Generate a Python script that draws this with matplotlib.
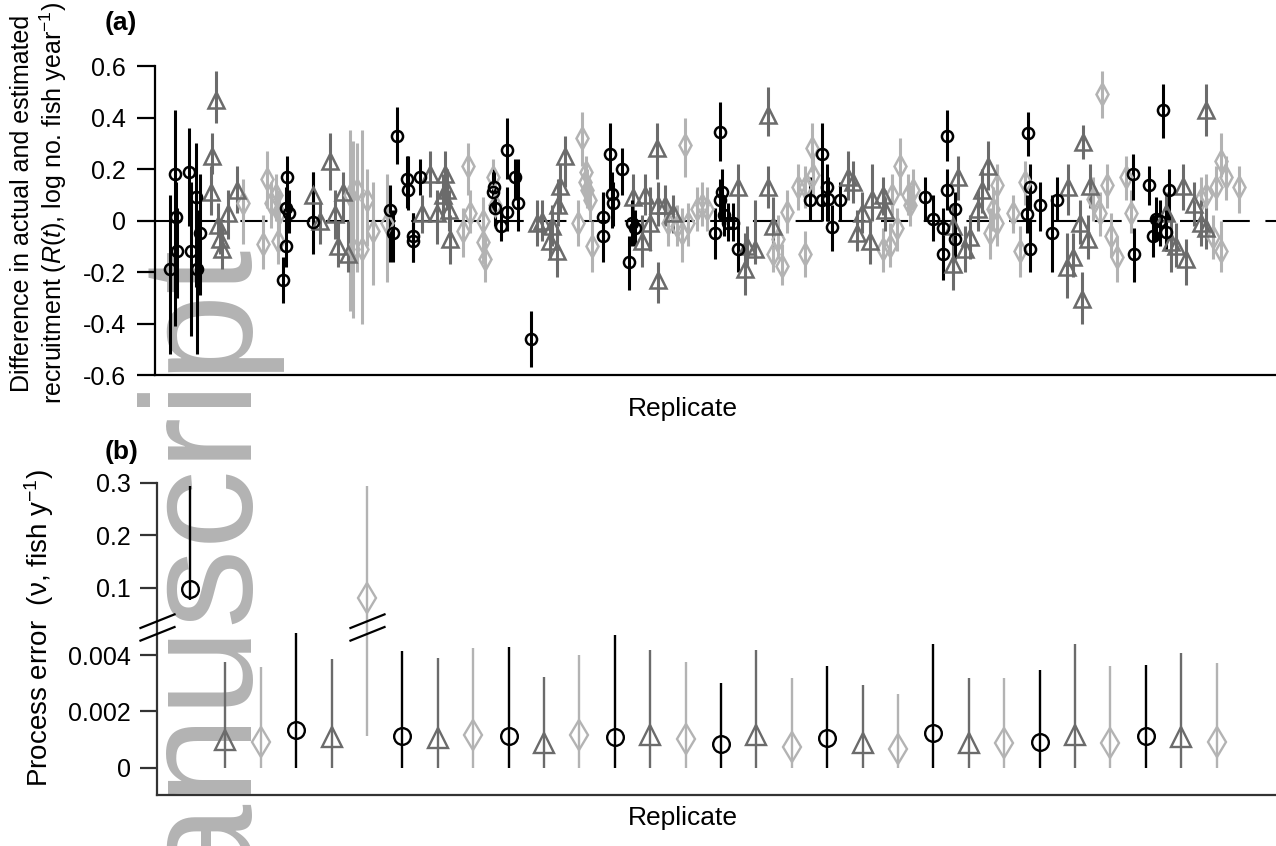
"""Two-panel replicate plot: (a) recruitment deviations, (b) process error."""
import numpy as np
import matplotlib

matplotlib.use("Agg")
import matplotlib.pyplot as plt  # noqa: E402
from matplotlib.path import Path  # noqa: E402

plt.rcParams["font.family"] = ["Liberation Sans", "DejaVu Sans"]
plt.rcParams["mathtext.fontset"] = "custom"
plt.rcParams["mathtext.rm"] = "Liberation Sans"
plt.rcParams["mathtext.it"] = "Liberation Sans:italic"
plt.rcParams["mathtext.bf"] = "Liberation Sans:bold"

# ---------------------------------------------------------------- data (a)
# x = replicate position (year points are spread around each replicate)
circ_x = [0.44, 0.58, 0.60, 0.63, 0.97, 1.03, 1.17, 1.20, 1.28,
          3.63, 3.71, 3.71, 3.74, 3.80, 4.47,
          6.65, 6.73, 6.85, 7.13, 7.16, 7.30, 7.30, 7.50,
          9.56, 9.59, 9.62, 9.79, 9.95, 9.95, 10.18, 10.27, 10.63,
          12.67, 12.67, 12.86, 12.92, 12.95, 13.20, 13.40, 13.49, 13.57,
          15.83, 15.97, 15.97, 16.03, 16.08, 16.20, 16.34, 16.48,
          18.51, 18.85, 18.85, 18.99, 19.02, 19.14, 19.36,
          21.76, 21.99, 22.27, 22.27, 22.38, 22.38, 22.61, 22.61,
          24.64, 24.67, 24.73, 24.73, 25.01, 25.35, 25.49,
          27.64, 27.67, 28.09, 28.20, 28.29, 28.40, 28.49, 28.57, 28.66]
circ_est = [-0.19, 0.18, 0.013, -0.12, 0.19, -0.12, 0.09, -0.19, -0.05,
            -0.23, -0.10, 0.05, 0.17, 0.03, -0.006,
            0.04, -0.05, 0.33, 0.16, 0.12, -0.06, -0.08, 0.17,
            0.11, 0.13, 0.05, -0.02, 0.275, 0.035, 0.17, 0.07, -0.46,
            0.013, -0.06, 0.26, 0.105, 0.07, 0.20, -0.16, -0.01, -0.03,
            -0.05, 0.345, 0.08, 0.11, 0.02, -0.01, -0.01, -0.11,
            0.08, 0.26, 0.08, 0.13, 0.085, -0.025, 0.08,
            0.09, 0.005, -0.03, -0.13, 0.33, 0.12, 0.045, -0.07,
            0.025, 0.34, 0.13, -0.11, 0.06, -0.05, 0.08,
            0.18, -0.13, 0.14, -0.06, 0.006, 0.0, 0.43, -0.045, 0.12]
circ_lo = [-0.52, -0.41, -0.15, -0.30, -0.02, -0.45, -0.26, -0.52, -0.29,
           -0.32, -0.18, -0.05, 0.05, -0.05, -0.13,
           -0.16, -0.16, 0.22, 0.05, 0.04, -0.16, -0.16, 0.10,
           0.03, 0.06, -0.02, -0.08, 0.16, -0.04, 0.08, -0.04, -0.57,
           -0.08, -0.16, 0.12, -0.03, -0.02, 0.10, -0.27, -0.10, -0.10,
           -0.15, 0.23, 0.0, 0.0, -0.06, -0.08, -0.08, -0.20,
           0.0, 0.12, 0.0, 0.0, 0.0, -0.12, 0.0,
           0.0, -0.08, -0.12, -0.23, 0.23, 0.04, -0.05, -0.15,
           -0.05, 0.25, 0.04, -0.20, -0.04, -0.20, 0.0,
           0.08, -0.24, 0.06, -0.14, -0.08, -0.10, 0.32, -0.12, 0.0]
circ_hi = [0.10, 0.43, 0.15, 0.05, 0.36, 0.15, 0.30, 0.04, 0.18,
           -0.14, 0.0, 0.13, 0.25, 0.12, 0.19,
           0.14, 0.04, 0.44, 0.25, 0.25, 0.03, 0.03, 0.24,
           0.19, 0.20, 0.12, 0.05, 0.40, 0.13, 0.24, 0.24, -0.35,
           0.10, 0.11, 0.38, 0.19, 0.15, 0.28, -0.06, 0.08, 0.04,
           0.05, 0.46, 0.16, 0.20, 0.10, 0.07, 0.07, 0.0,
           0.17, 0.38, 0.16, 0.22, 0.17, 0.06, 0.15,
           0.17, 0.10, 0.05, -0.04, 0.43, 0.20, 0.11, 0.0,
           0.10, 0.42, 0.22, 0.0, 0.15, 0.10, 0.17,
           0.26, -0.03, 0.21, 0.02, 0.09, 0.08, 0.53, 0.04, 0.20]

tri_x = [1.59, 1.62, 1.73, 1.79, 1.85, 1.90, 2.07, 2.33,
         4.47, 4.67, 4.95, 5.10, 5.18, 5.32, 5.46,
         7.55, 7.78, 7.98, 8.15, 8.20, 8.26, 8.32, 8.34,
         10.80, 10.94, 11.17, 11.23, 11.37, 11.40, 11.45, 11.59,
         13.51, 13.77, 13.85, 13.99, 14.19, 14.22, 14.22, 14.42, 14.64,
         16.48, 16.68, 16.73, 16.96, 17.33, 17.33, 17.47,
         19.59, 19.73, 19.84, 19.98, 20.21, 20.27, 20.58, 20.63,
         22.55, 22.55, 22.69, 22.89, 23.03, 23.26, 23.37, 23.54,
         25.77, 25.80, 25.94, 26.14, 26.20, 26.23, 26.37, 26.42,
         28.57, 28.71, 28.85, 29.05, 29.14, 29.36, 29.56, 29.70, 29.70]
tri_est = [0.11, 0.25, 0.47, -0.016, -0.07, -0.11, 0.03, 0.12,
           0.10, 0.0, 0.23, 0.025, -0.10, 0.11, -0.13,
           0.03, 0.18, 0.03, 0.10, 0.18, 0.12, 0.04, -0.07,
           -0.01, 0.0, -0.08, -0.02, -0.12, 0.06, 0.135, 0.25,
           0.09, -0.08, 0.10, -0.01, 0.28, 0.06, -0.23, 0.06, 0.03,
           0.13, -0.19, -0.10, -0.11, 0.41, 0.13, -0.02,
           0.17, 0.15, -0.05, 0.03, -0.08, 0.085, 0.10, 0.04,
           -0.02, -0.17, 0.17, -0.11, -0.065, 0.045, 0.12, 0.21,
           -0.18, 0.13, -0.14, -0.01, -0.305, 0.305, -0.07, 0.135,
           0.03, -0.085, -0.10, 0.135, -0.15, 0.065, -0.01, 0.43, -0.03]
tri_lo = [0.02, 0.18, 0.38, -0.06, -0.13, -0.19, -0.07, 0.03,
          0.0, -0.09, 0.12, -0.07, -0.18, 0.0, -0.20,
          -0.05, 0.09, -0.09, 0.0, 0.06, 0.04, -0.04, -0.17,
          -0.10, -0.08, -0.15, -0.10, -0.22, -0.02, 0.03, 0.13,
          0.0, -0.18, 0.02, -0.12, 0.16, -0.02, -0.32, -0.02, -0.05,
          0.0, -0.29, -0.18, -0.17, 0.33, 0.05, -0.10,
          0.08, 0.07, -0.12, -0.05, -0.17, 0.0, 0.02, -0.04,
          -0.10, -0.27, 0.08, -0.20, -0.15, -0.04, 0.03, 0.12,
          -0.30, 0.02, -0.22, -0.09, -0.40, 0.24, -0.15, 0.05,
          -0.05, -0.20, -0.18, 0.04, -0.25, -0.02, -0.10, 0.33, -0.11]
tri_hi = [0.21, 0.34, 0.58, 0.07, 0.0, -0.02, 0.12, 0.21,
          0.19, 0.07, 0.34, 0.12, 0.0, 0.19, 0.0,
          0.10, 0.27, 0.12, 0.18, 0.27, 0.20, 0.12, 0.02,
          0.08, 0.08, 0.0, 0.06, -0.02, 0.16, 0.22, 0.33,
          0.18, 0.02, 0.18, 0.13, 0.38, 0.15, -0.16, 0.14, 0.10,
          0.22, -0.05, -0.02, 0.08, 0.52, 0.21, 0.09,
          0.27, 0.23, 0.04, 0.11, 0.0, 0.22, 0.17, 0.12,
          0.06, -0.06, 0.25, -0.02, 0.02, 0.12, 0.20, 0.31,
          -0.05, 0.22, -0.05, 0.08, -0.20, 0.37, 0.02, 0.22,
          0.11, 0.02, -0.01, 0.22, -0.07, 0.15, 0.08, 0.53, 0.05]

dia_x = [2.50, 3.06, 3.18, 3.29, 3.44, 3.49, 3.52,
         5.52, 5.60, 5.72, 5.86, 6.00, 6.17, 6.56,
         8.71, 8.85, 8.91, 9.28, 9.28, 9.33, 9.56, 9.62,
         11.96, 12.07, 12.16, 12.19, 12.21, 12.30, 12.36,
         14.50, 14.76, 14.90, 14.98, 15.07, 15.32, 15.46, 15.60,
         17.47, 17.61, 17.72, 17.86, 18.18, 18.37, 18.37, 18.57, 18.60,
         20.58, 20.77, 20.83, 20.97, 21.06, 21.28, 21.34, 21.43,
         23.60, 23.68, 23.80, 23.80, 24.25, 24.45, 24.59,
         26.51, 26.71, 26.76, 26.90, 27.02, 27.19, 27.44, 27.58,
         29.56, 29.70, 29.90, 29.98, 30.12, 30.12, 30.27, 30.63]
dia_est = [0.07, -0.09, 0.16, 0.07, 0.10, -0.08, 0.03,
           0.10, -0.11, 0.12, -0.11, 0.08, -0.04, -0.01,
           -0.04, 0.21, 0.03, 0.0, -0.085, -0.15, 0.17, 0.06,
           -0.01, 0.32, 0.15, 0.19, 0.12, 0.08, -0.10,
           -0.01, -0.02, -0.05, 0.295, -0.01, 0.045, 0.06, 0.045,
           -0.13, -0.07, -0.175, 0.035, 0.13, -0.13, 0.13, 0.28, 0.175,
           -0.11, -0.10, 0.10, -0.03, 0.21, 0.10, 0.06, 0.12,
           -0.05, 0.045, 0.14, -0.01, 0.03, -0.12, 0.15,
           0.085, 0.03, 0.49, 0.14, -0.06, -0.14, 0.17, 0.03,
           0.085, 0.10, -0.065, 0.13, 0.23, -0.12, 0.17, 0.13]
dia_lo = [-0.09, -0.19, 0.05, -0.03, 0.0, -0.17, -0.06,
          -0.35, -0.38, -0.20, -0.40, -0.10, -0.25, -0.24,
          -0.14, 0.10, -0.05, -0.09, -0.17, -0.24, 0.05, -0.03,
          -0.10, 0.21, 0.08, 0.10, 0.05, 0.0, -0.20,
          -0.10, -0.10, -0.16, 0.17, -0.10, -0.04, -0.02, -0.04,
          -0.20, -0.15, -0.25, -0.05, 0.04, -0.22, 0.05, 0.19, 0.09,
          -0.20, -0.18, 0.02, -0.12, 0.10, 0.02, -0.02, 0.04,
          -0.15, -0.04, 0.05, -0.10, -0.05, -0.22, 0.06,
          0.0, -0.06, 0.40, 0.05, -0.14, -0.24, 0.08, -0.05,
          0.0, 0.02, -0.15, 0.04, 0.17, -0.20, 0.08, 0.03]
dia_hi = [0.16, 0.02, 0.27, 0.15, 0.18, 0.0, 0.12,
          0.35, 0.31, 0.30, 0.35, 0.20, 0.15, 0.18,
          0.05, 0.30, 0.12, 0.09, 0.0, -0.06, 0.24, 0.14,
          0.08, 0.42, 0.22, 0.25, 0.20, 0.15, 0.0,
          0.07, 0.06, 0.05, 0.40, 0.07, 0.13, 0.15, 0.13,
          -0.02, 0.02, -0.09, 0.12, 0.22, -0.04, 0.21, 0.38, 0.26,
          -0.03, -0.01, 0.18, 0.05, 0.32, 0.18, 0.14, 0.20,
          0.05, 0.13, 0.22, 0.07, 0.10, -0.02, 0.23,
          0.17, 0.11, 0.58, 0.22, 0.03, -0.06, 0.25, 0.12,
          0.17, 0.18, 0.02, 0.21, 0.34, 0.0, 0.25, 0.21]

a_ticks = [-0.6, -0.4, -0.2, 0.0, 0.2, 0.4, 0.6]
a_ticklabels = ["-0.6", "-0.4", "-0.2", "0", "0.2", "0.4", "0.6"]

# ---------------------------------------------------------------- data (b)
replicate = list(range(1, 31))
b_est = [0.098, 0.00099, 0.00093, 0.00134, 0.0011, 0.080, 0.00113, 0.00106,
         0.00117, 0.00113, 0.00088, 0.00117, 0.0011, 0.00117, 0.00103,
         0.00085, 0.00117, 0.00075, 0.00106, 0.0009, 0.00067, 0.00123,
         0.0009, 0.00088, 0.00093, 0.00117, 0.00088, 0.00113, 0.0011, 0.00093]
b_lo = [0.077, 0, 0, 0, 0, 0.00113, 0, 0, 0, 0, 0, 0, 0, 0, 0,
        0, 0, 0, 0, 0, 0, 0, 0, 0, 0, 0, 0, 0, 0, 0]
b_hi = [0.295, 0.00376, 0.00359, 0.00477, 0.00385, 0.295, 0.00414, 0.0039,
        0.00426, 0.0043, 0.00322, 0.004, 0.0047, 0.00418, 0.00376, 0.003,
        0.00418, 0.00318, 0.0036, 0.00294, 0.00262, 0.00439, 0.00318,
        0.0032, 0.00347, 0.00439, 0.0036, 0.00365, 0.00408, 0.00371]
b_ticks = [0.0, 0.002, 0.004, 0.1, 0.2, 0.3]
b_ticklabels = ["0", "0.002", "0.004", "0.1", "0.2", "0.3"]
b_breaks = [0.068, 6]   # replicate positions where the axis break is marked

BLACK, MID, LIGHT = "#000000", "#6b6b6b", "#b3b3b3"
STYLES = [("o", BLACK), ("^", MID), ("d", LIGHT)]

# broken y axis for panel (b): 0.005 .. 0.026 collapsed
BRK = [-1.0, 0.005, 0.026, 10.0]
UNITS = [-1000.0, 5.0, 5.01, 5.01 + (10.0 - 0.026) * 18.58]


def fwd(y):
    return np.interp(y, BRK, UNITS)


def inv(u):
    return np.interp(u, UNITS, BRK)


fig = plt.figure(figsize=(12.76, 8.46), dpi=100)

# watermark behind everything
fig.text(0.189, -0.197, "manuscript", rotation=90, rotation_mode="anchor",
         ha="left", va="baseline", fontsize=114, color="#b3b3b3", zorder=-1)

# ---------------------------------------------------------------- panel (a)
ax = fig.add_axes([0.1215, 0.5567, 0.8785, 0.3652])
ax.patch.set_alpha(0)
ax.axhline(0, color="black", lw=1.5, ls=(0, (13, 7.5)), zorder=1)

groups = [(dia_x, dia_est, dia_lo, dia_hi, "d", LIGHT, 11),
          (tri_x, tri_est, tri_lo, tri_hi, "^", MID, 11),
          (circ_x, circ_est, circ_lo, circ_hi, "o", BLACK, 8)]
for gx, ge, gl, gh, mk, col, ms in groups:
    ge = np.array(ge)
    yerr = [ge - np.array(gl), np.array(gh) - ge]
    ax.errorbar(gx, ge, yerr=yerr, fmt=mk, color=col, mfc="none", mec=col,
                ms=ms, mew=1.8, elinewidth=2.2, capsize=0, zorder=2)

ax.set_xlim(0.01, 31.68)
ax.set_ylim(-0.6, 0.6)
ax.set_yticks(a_ticks)
ax.set_yticklabels(a_ticklabels)
ax.set_xticks([])
for s in ("top", "right"):
    ax.spines[s].set_visible(False)
for s in ("left", "bottom"):
    ax.spines[s].set_linewidth(1.6)
ax.tick_params(axis="y", direction="out", length=13, width=1.6,
               labelsize=18, pad=8)

fig.text(0.535, 0.531, "Replicate", ha="center", va="top", fontsize=19)
fig.text(0.082, 0.964, "(a)", fontsize=19, fontweight="bold", va="baseline")
fig.text(0.031, 0.76,
         "Difference in actual and estimated\n"
         r"recruitment ($\mathit{R}$($\mathit{t}$), log no. fish year$^{-1}$)",
         rotation=90, ha="center", va="center", fontsize=18,
         linespacing=1.15, multialignment="center")

# ---------------------------------------------------------------- panel (b)
bx = fig.add_axes([0.123, 0.0603, 0.877, 0.3688])
bx.patch.set_alpha(0)
bx.set_yscale("function", functions=(fwd, inv))
for i, rep in enumerate(replicate):
    mk, col = STYLES[i % 3]
    ms = {"o": 12, "^": 15, "d": 15}[mk]
    bx.errorbar([rep], [b_est[i]],
                yerr=[[b_est[i] - b_lo[i]], [b_hi[i] - b_est[i]]],
                fmt=mk, color=col, mfc="none", mec=col, ms=ms, mew=1.7,
                elinewidth=1.7, capsize=0, zorder=2)

bx.set_xlim(0.068, 31.68)
bx.set_ylim(-0.00096, 0.3)
bx.set_yticks(b_ticks)
bx.set_yticklabels(b_ticklabels)
bx.yaxis.set_minor_locator(matplotlib.ticker.NullLocator())
bx.set_xticks([])
for s in ("top", "right"):
    bx.spines[s].set_visible(False)
for s in ("left", "bottom"):
    bx.spines[s].set_linewidth(1.6)
    bx.spines[s].set_color("#333333")
bx.tick_params(axis="y", direction="out", length=12, width=1.6,
               color="#333333", labelsize=18, pad=7)

# axis-break marks "//"
brk_path = Path([(-1, -0.75), (1, 0.05), (-1, -0.05), (1, 0.75)],
                [Path.MOVETO, Path.LINETO, Path.MOVETO, Path.LINETO])
bx.plot(b_breaks, [0.015, 0.015], ls="none", marker=brk_path, ms=26,
        mec="black", mew=1.6, clip_on=False, zorder=3)

fig.text(0.535, 0.047, "Replicate", ha="center", va="top", fontsize=19)
fig.text(0.082, 0.457, "(b)", fontsize=19, fontweight="bold", va="baseline")
fig.text(0.031, 0.258, "Process error  (\u03bd, fish y$^{-1}$)", rotation=90,
         ha="center", va="center", fontsize=20)

fig.savefig("out.png", dpi=100)
